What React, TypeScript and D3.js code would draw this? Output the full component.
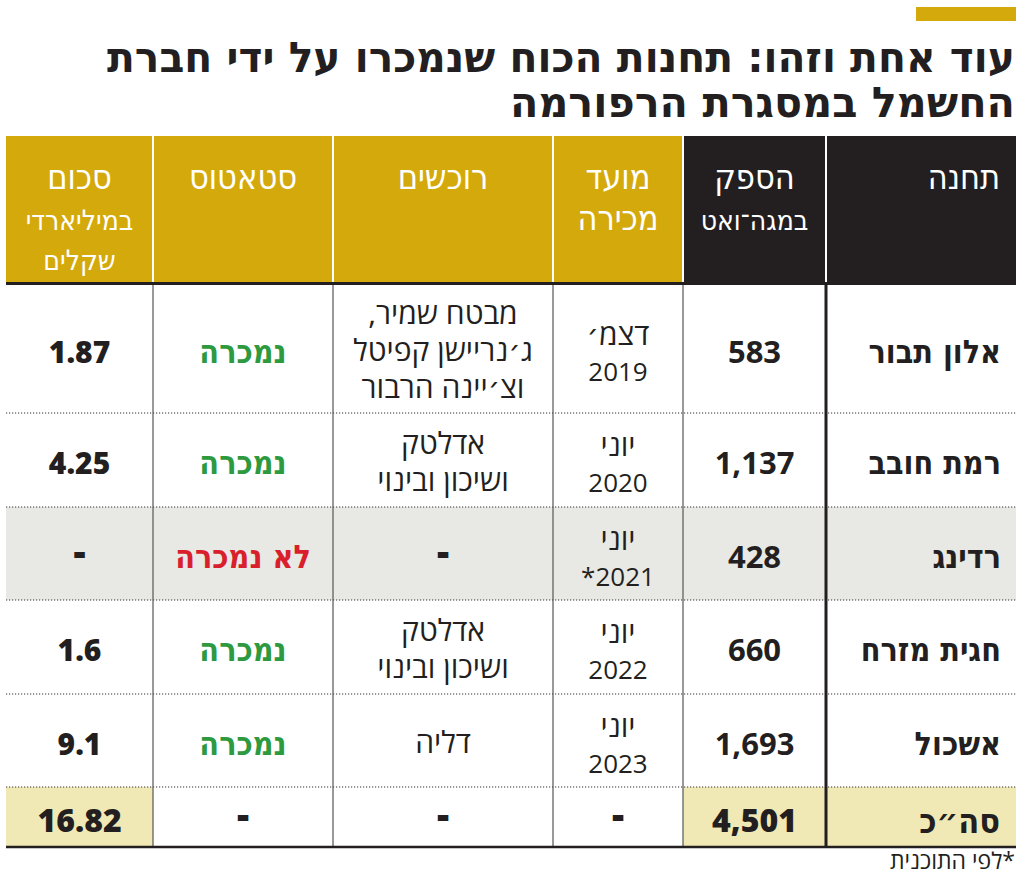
import React from "react";
import * as d3 from "d3";

// ---------- DATA ----------
const titleLines = ["עוד אחת וזהו: תחנות הכוח שנמכרו על ידי חברת", "החשמל במסגרת הרפורמה"];
const headerMain = [["תחנה"], ["הספק"], ["מועד", "מכירה"], ["רוכשים"], ["סטאטוס"], ["סכום"]];
const headerSub = [[], ["במגה־ואט"], [], [], [], ["במיליארדי", "שקלים"]];
const stations = ["אלון תבור", "רמת חובב", "רדינג", "חגית מזרח", "אשכול"];
const capacityMW = [583, 1137, 428, 660, 1693];
const saleMonths = ["דצמ׳", "יוני", "יוני", "יוני", "יוני"];
const saleYears = ["2019", "2020", "2021*", "2022", "2023"];
const buyers = [
  ["מבטח שמיר,", "ג׳נריישן קפיטל", "וצ׳יינה הרבור"],
  ["אדלטק", "ושיכון ובינוי"],
  ["-"],
  ["אדלטק", "ושיכון ובינוי"],
  ["דליה"],
];
const soldFlags = [true, true, false, true, true];
const amountsBn: (number | null)[] = [1.87, 4.25, null, 1.6, 9.1];
const statusSold = "נמכרה";
const statusNotSold = "לא נמכרה";
const totalLabel = "סה״כ";
const footnote = "*לפי התוכנית";

// ---------- LAYOUT ----------
const W = 1024;
const H = 878;
const colEdges = [1016, 826, 683, 553, 333, 153, 6]; // right to left
const headerTop = 136;
const headerBottom = 282;
const bodyTop = 284;
const rowHeights = [129, 94, 93, 94, 93];
const totalRowH = 60;

const GOLD = "#D4A90B";
const BLACK = "#231F20";
const GREY = "#E8E8E5";
const PALE = "#F1E9B5";
const GREEN = "#2E9A3F";
const RED = "#D81F2B";

const condensed = "'DejaVu Sans Condensed', 'Liberation Sans Narrow', 'DejaVu Sans', sans-serif";
const heavyHeb = "'DejaVu Sans Condensed', 'DejaVu Sans', sans-serif";
const body = "'Open Sans', 'DejaVu Sans', sans-serif";

export default function App() {
  const rowTops = [bodyTop, ...Array.from(d3.cumsum(rowHeights)).map((c) => bodyTop + c)];
  const totalTop = rowTops[rowHeights.length];
  const tableBottom = totalTop + totalRowH;

  const colCenter = (i: number) => (colEdges[i] + colEdges[i + 1]) / 2;
  const fmt = d3.format(",");
  const totalCap = d3.sum(capacityMW);
  const totalAmt = d3.sum(amountsBn.map((v) => v ?? 0));
  const amtFmt = (v: number) => String(+v.toFixed(2));

  const dash = (x: number, cy: number, key: string) => (
    <text key={key} x={x} y={cy + 12} textAnchor="middle" fontFamily={body} fontWeight={800} fontSize={38} fill={BLACK}>-</text>
  );

  return (
    <svg width={W} height={H} style={{ display: "block", position: "absolute", left: 0, top: 0 }}>
      <rect x={0} y={0} width={W} height={H} fill="#fff" />
      {/* accent bar */}
      <rect x={916} y={7} width={100} height={14} fill={GOLD} />
      {/* title */}
      <text x={1015} y={72} direction="rtl" textAnchor="start" fontFamily={condensed} fontWeight={700}
        fontSize={42} fill={BLACK} textLength={908} lengthAdjust="spacingAndGlyphs">{titleLines[0]}</text>
      <text x={1015} y={117} direction="rtl" textAnchor="start" fontFamily={condensed} fontWeight={700}
        fontSize={42} fill={BLACK} textLength={505} lengthAdjust="spacingAndGlyphs">{titleLines[1]}</text>

      {/* header cells */}
      {headerMain.map((m, i) => {
        const x0 = colEdges[i + 1] + (i === headerMain.length - 1 ? 0 : 1);
        const x1 = colEdges[i] - (i === 0 ? 0 : 1);
        return (
          <g key={"h" + i}>
            <rect x={x0} y={headerTop} width={x1 - x0} height={headerBottom - headerTop} fill={i < 2 ? BLACK : GOLD} />
            {m.map((t, j) => (
              <text key={j} x={i === 0 ? 1000 : colCenter(i)} y={189 + j * 41} direction="rtl"
                textAnchor={i === 0 ? "start" : "middle"} fontFamily={condensed} fontSize={34} fill="#fff">{t}</text>
            ))}
            {headerSub[i].map((t, j) => (
              <text key={"s" + j} x={colCenter(i)} y={230 + j * 40} direction="rtl" textAnchor="middle"
                fontFamily={condensed} fontSize={28} fill="#fff">{t}</text>
            ))}
          </g>
        );
      })}

      {/* row backgrounds */}
      {soldFlags.map((s, r) => !s ? (
        <rect key={"g" + r} x={colEdges[6]} y={rowTops[r]} width={colEdges[0] - colEdges[6]} height={rowHeights[r]} fill={GREY} />
      ) : null)}
      {[0, 1, 5].map((c) => (
        <rect key={"p" + c} x={colEdges[c + 1]} y={totalTop} width={colEdges[c] - colEdges[c + 1]} height={totalRowH} fill={PALE} />
      ))}

      {/* dotted separators */}
      {rowTops.slice(1).map((y, r) => (
        <line key={"d" + r} x1={colEdges[6]} x2={colEdges[0]} y1={y} y2={y} stroke="#333" strokeWidth={1.2} strokeDasharray="1.2 1.8" />
      ))}

      {/* vertical dividers */}
      {colEdges.slice(2, 6).map((x) => (
        <line key={"v" + x} x1={x} x2={x} y1={bodyTop} y2={tableBottom} stroke="#555" strokeWidth={1.2} />
      ))}
      <line x1={colEdges[1]} x2={colEdges[1]} y1={bodyTop} y2={tableBottom} stroke={BLACK} strokeWidth={3} />

      {/* header bottom and table bottom */}
      <line x1={colEdges[6]} x2={colEdges[0]} y1={283.5} y2={283.5} stroke={BLACK} strokeWidth={3} />
      <line x1={colEdges[6]} x2={colEdges[0]} y1={tableBottom} y2={tableBottom} stroke={BLACK} strokeWidth={2.5} />

      {/* body rows */}
      {stations.map((name, r) => {
        const cy = rowTops[r] + rowHeights[r] / 2;
        const amt = amountsBn[r];
        const b = buyers[r];
        return (
          <g key={"r" + r}>
            <text x={1001} y={cy + 14} direction="rtl" textAnchor="start" fontFamily={heavyHeb} fontWeight={700} fontSize={32} fill={BLACK}>{name}</text>
            <text x={colCenter(1)} y={cy + 14} textAnchor="middle" fontFamily={body} fontWeight={700} fontSize={31} fill={BLACK}>{fmt(capacityMW[r])}</text>
            <text x={colCenter(2)} y={cy - 4} direction="rtl" textAnchor="middle" fontFamily={body} fontSize={30} fill={BLACK}>{saleMonths[r]}</text>
            <text x={colCenter(2)} y={cy + 32} direction="rtl" textAnchor="middle" fontFamily={body} fontSize={26} fill={BLACK}>{saleYears[r]}</text>
            {b[0] === "-" ? dash(colCenter(3), cy, "bd") : b.map((l, j) => (
              <text key={"b" + j} x={colCenter(3)} y={cy + 3 + (j - (b.length - 1) / 2) * 37 + 9} direction="rtl" textAnchor="middle"
                fontFamily={body} fontSize={30} fill={BLACK}>{l}</text>
            ))}
            <text x={colCenter(4)} y={cy + 14} direction="rtl" textAnchor="middle" fontFamily={heavyHeb} fontWeight={700} fontSize={32}
              fill={soldFlags[r] ? GREEN : RED}>{soldFlags[r] ? statusSold : statusNotSold}</text>
            {amt == null ? dash(colCenter(5), cy, "ad") : (
              <text x={colCenter(5)} y={cy + 14} textAnchor="middle" fontFamily={body} fontWeight={800} fontSize={30} fill={BLACK}>
                {amtFmt(amt)}
              </text>
            )}
          </g>
        );
      })}

      {/* total row */}
      {(() => {
        const cy = totalTop + totalRowH / 2;
        return (
          <g>
            <text x={1000} y={cy + 16} direction="rtl" textAnchor="start" fontFamily={heavyHeb} fontWeight={700} fontSize={34} fill={BLACK}>{totalLabel}</text>
            <text x={colCenter(1)} y={cy + 15} textAnchor="middle" fontFamily={body} fontWeight={800} fontSize={32} fill={BLACK}>{fmt(totalCap)}</text>
            {[2, 3, 4].map((c) => dash(colCenter(c), cy, "t" + c))}
            <text x={colCenter(5)} y={cy + 15} textAnchor="middle" fontFamily={body} fontWeight={800} fontSize={32} fill={BLACK}>{amtFmt(totalAmt)}</text>
          </g>
        );
      })()}

      {/* footnote */}
      <text x={1015} y={869} direction="rtl" textAnchor="start" fontFamily={body} fontSize={23} fill={BLACK}>{footnote}</text>
    </svg>
  );
}
